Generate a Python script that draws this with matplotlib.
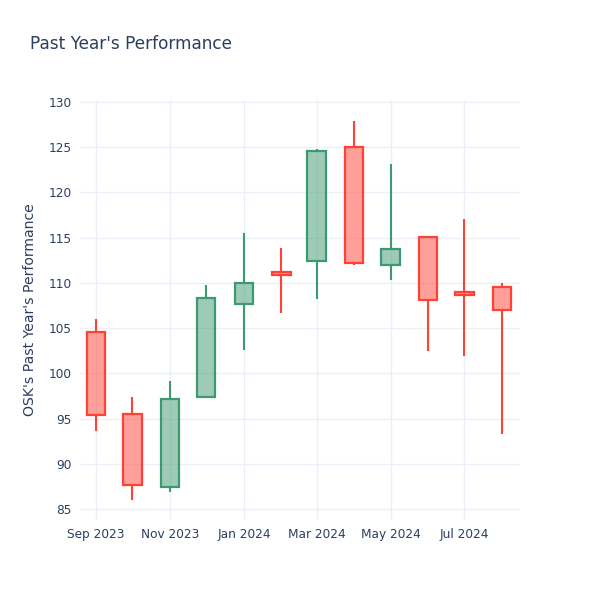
import matplotlib
matplotlib.use('Agg')
import matplotlib.pyplot as plt
import matplotlib.dates as mdates
import numpy as np
from datetime import datetime, timedelta

# monthly OHLC for OSK
months = ['2023-09-01', '2023-10-01', '2023-11-01', '2023-12-01', '2024-01-01', '2024-02-01',
          '2024-03-01', '2024-04-01', '2024-05-01', '2024-06-01', '2024-07-01', '2024-08-01']
opens = [104.6, 95.5, 87.5, 97.4, 107.7, 111.2, 112.4, 125.0, 112.0, 115.1, 109.0, 109.5]
highs = [106.0, 97.4, 99.2, 109.8, 115.5, 113.9, 124.8, 127.9, 123.1, 115.2, 117.0, 110.0]
lows = [93.6, 86.0, 86.9, 97.4, 102.6, 106.7, 108.2, 112.0, 110.3, 102.5, 101.9, 93.3]
closes = [95.4, 87.7, 97.2, 108.3, 110.0, 110.9, 124.6, 112.2, 113.7, 108.1, 108.7, 107.0]

tick_dates = ['2023-09-01', '2023-11-01', '2024-01-01', '2024-03-01', '2024-05-01', '2024-07-01']
tick_labels = ['Sep 2023', 'Nov 2023', 'Jan 2024', 'Mar 2024', 'May 2024', 'Jul 2024']

inc_col = '#3D9970'
dec_col = '#FF4136'
font_col = '#2a3f5f'
grid_col = '#EBF0F8'

dates = [datetime.strptime(d, '%Y-%m-%d') for d in months]
x = mdates.date2num(dates)

fig = plt.figure(figsize=(6, 6), dpi=100)
ax = fig.add_axes([80 / 600, 80 / 600, 440 / 600, 420 / 600])

width = 15.1  # days
for xi, o, h, l, c in zip(x, opens, highs, lows, closes):
    col = inc_col if c >= o else dec_col
    top = max(o, c)
    bot = min(o, c)
    ax.vlines(xi, top, h, color=col, lw=1.5, zorder=2)
    ax.vlines(xi, l, bot, color=col, lw=1.5, zorder=2)
    ax.bar(xi, top - bot, bottom=bot, width=width, color=col, alpha=0.5, zorder=3, linewidth=0)
    ax.bar(xi, top - bot, bottom=bot, width=width, fill=False, edgecolor=col, linewidth=1.6, zorder=4)

x0 = x[0] - 13.2
ax.set_xlim(x0, x0 + 363)
ax.set_ylim(83.8, 130.2)
ax.set_yticks(np.arange(85, 131, 5))
ax.set_xticks(mdates.date2num([datetime.strptime(d, '%Y-%m-%d') for d in tick_dates]))
ax.set_xticklabels(tick_labels)

ax.grid(True, color=grid_col, lw=1)
ax.set_axisbelow(True)
for s in ax.spines.values():
    s.set_visible(False)
ax.tick_params(length=0, colors=font_col, labelsize=8.7, pad=6)

ax.set_ylabel("OSK's Past Year's Performance", color=font_col, fontsize=10.1, labelpad=12)
ax.yaxis.set_label_coords(-43 / 440, 0.5)
fig.text(0.05, 0.926, "Past Year's Performance", color=font_col, fontsize=12.2, va='center')

fig.savefig('out.png', dpi=100)
